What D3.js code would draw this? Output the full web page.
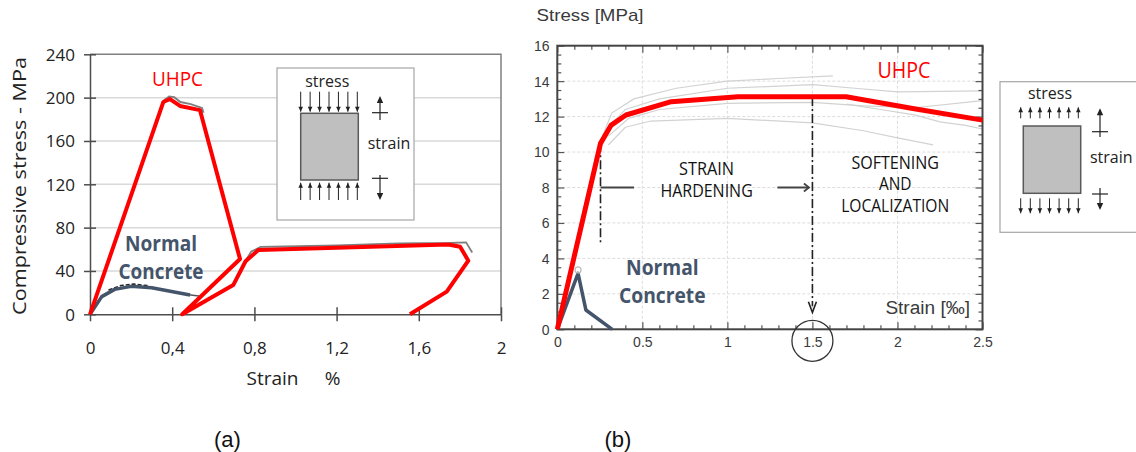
<!DOCTYPE html>
<html>
<head>
<meta charset="utf-8">
<script src="https://cdn.jsdelivr.net/npm/d3@7"></script>
<style>
  html, body { margin: 0; padding: 0; background: #fff; }
  svg { display: block; }
</style>
</head>
<body>
<svg id="fig" width="1136" height="452"></svg>
<script>
// ---------- Panel (a): compression ----------
const aXTicks = [0, 0.4, 0.8, 1.2, 1.6, 2];
const aXLabels = ["0", "0,4", "0,8", "1,2", "1,6", "2"];
const aYTicks = [0, 40, 80, 120, 160, 200, 240];

// strain [%], stress [MPa]
const aUhpc = [[0,0],[0.357,196],[0.389,198.7],[0.438,192.3],[0.535,188.5],[0.73,51],
  [0.449,0],[0.697,27],[0.757,49],[0.819,59.3],[1.2,61.5],[1.743,64.5],[1.801,62.4],
  [1.841,49.5],[1.736,20.9],[1.557,0]];
const aUhpcTestPeak = [[0.36,197.5],[0.385,201],[0.41,200.5],[0.44,196],[0.49,194],[0.545,190.5],[0.552,186]];
const aUhpcTestPlateau = [[0.70,28],[0.745,46],[0.785,58],[0.83,62.2],[0.95,62.6],[1.2,63.6],
  [1.5,65.4],[1.75,65.8],[1.83,66.4],[1.86,57]];
const aNormal = [[0,0],[0.057,16.3],[0.12,23],[0.2,25.8],[0.3,24.5],[0.487,17.8]];
const aNormalTest = [[0.09,22.5],[0.15,26.5],[0.21,28],[0.28,26.5]];
const aNormalTail = [[0.48,18],[0.53,17]];

// ---------- Panel (b): tension ----------
const bXTicks = [0, 0.5, 1, 1.5, 2, 2.5];
const bXLabels = ["0", "0.5", "1", "1.5", "2", "2.5"];
const bYTicks = [0, 2, 4, 6, 8, 10, 12, 14, 16];

// strain [‰], stress [MPa]
const bUhpc = [[0,0],[0.254,10.49],[0.317,11.52],[0.404,12.09],[0.67,12.84],[1.063,13.12],
  [1.698,13.12],[2.09,12.46],[2.5,11.8]];
const bNormal = [[0,0],[0.122,3.16],[0.168,1.09],[0.323,0]];
const bNormalPeak = [[0.122,3.35]];
const bTest1 = [[0,0],[0.2,8.6],[0.27,11.0],[0.32,12.2],[0.45,13.0],[0.7,13.6],[1.0,14.0],[1.3,14.15],[1.62,14.3]];
const bTest2 = [[0.3,11.4],[0.4,12.4],[0.6,13.0],[1.0,13.6],[1.5,13.8],[1.75,13.6],[2.0,13.4],[2.5,13.45]];
const bTest3 = [[0.3,10.9],[0.42,11.9],[0.6,12.4],[1.0,12.75],[1.5,12.8],[1.8,12.6],[2.1,12.5],[2.5,12.9]];
const bTest4 = [[0.3,10.4],[0.4,11.4],[0.55,11.75],[1.0,11.9],[1.5,11.65],[1.8,11.2],[2.0,10.8],[2.21,10.4]];
const bTest5 = [[1.7,12.7],[1.9,12.4],[2.1,12.1],[2.25,11.7],[2.4,11.5],[2.5,11.3]];

const SLATE = "#44546a";
const RED = "#ff0000";
const SANS = "'Open Sans', 'Noto Sans', sans-serif";
const ARIAL = "'Liberation Sans', Arial, sans-serif";

const svg = d3.select("#fig");
svg.append("rect").attr("width", 1136).attr("height", 452).attr("fill", "#fff");

function txt(g, x, y, s, o) {
  const t = g.append("text").attr("x", x).attr("y", y).text(s)
    .attr("dominant-baseline", "central")
    .attr("text-anchor", o.anchor || "middle")
    .attr("font-family", o.family || SANS)
    .attr("font-size", o.size || 16)
    .attr("font-weight", o.weight || "normal")
    .attr("fill", o.fill || "#111");
  if (o.len) t.attr("textLength", o.len).attr("lengthAdjust", "spacingAndGlyphs");
  if (o.transform) t.attr("transform", o.transform);
  return t;
}

function arrowHead(g, x, tipY, dir, len, half, color) {
  // dir = -1 pointing up, +1 pointing down
  g.append("path")
    .attr("d", `M${x},${tipY} L${x - half},${tipY - dir * len} L${x + half},${tipY - dir * len} Z`)
    .attr("fill", color);
}

// Loaded specimen sketch with stress arrows and strain symbol
function specimen(g, box, rect, arrows, strain, labels, outward) {
  g.append("rect").attr("x", box[0]).attr("y", box[1]).attr("width", box[2] - box[0]).attr("height", box[3] - box[1])
    .attr("fill", "#fff").attr("stroke", "#a6a6a6").attr("stroke-width", 1.2);
  g.append("rect").attr("x", rect[0]).attr("y", rect[1]).attr("width", rect[2] - rect[0]).attr("height", rect[3] - rect[1])
    .attr("fill", "#bfbfbf").attr("stroke", "#595959").attr("stroke-width", 1.5);
  const n = 7;
  for (let i = 0; i < n; i++) {
    const x = arrows.x0 + (arrows.x1 - arrows.x0) * i / (n - 1);
    // top row
    g.append("line").attr("x1", x).attr("x2", x).attr("y1", arrows.top[0]).attr("y2", arrows.top[1])
      .attr("stroke", "#222").attr("stroke-width", 1);
    // bottom row
    g.append("line").attr("x1", x).attr("x2", x).attr("y1", arrows.bot[0]).attr("y2", arrows.bot[1])
      .attr("stroke", "#222").attr("stroke-width", 1);
    if (outward) {
      arrowHead(g, x, arrows.top[0], -1, 5, 2.3, "#222");
      arrowHead(g, x, arrows.bot[1], 1, 5, 2.3, "#222");
    } else {
      arrowHead(g, x, arrows.top[1], 1, 5, 2.3, "#222");
      arrowHead(g, x, arrows.bot[0], -1, 5, 2.3, "#222");
    }
  }
  const sx = strain.x;
  g.append("line").attr("x1", sx).attr("x2", sx).attr("y1", strain.top[0] + 3).attr("y2", strain.top[1]).attr("stroke", "#222").attr("stroke-width", 1.2);
  g.append("line").attr("x1", sx - 8).attr("x2", sx + 8).attr("y1", strain.top[2]).attr("y2", strain.top[2]).attr("stroke", "#222").attr("stroke-width", 1.2);
  arrowHead(g, sx, strain.top[0], -1, 7, 3.2, "#222");
  g.append("line").attr("x1", sx).attr("x2", sx).attr("y1", strain.bot[0]).attr("y2", strain.bot[1] - 3).attr("stroke", "#222").attr("stroke-width", 1.2);
  g.append("line").attr("x1", sx - 8).attr("x2", sx + 8).attr("y1", strain.bot[2]).attr("y2", strain.bot[2]).attr("stroke", "#222").attr("stroke-width", 1.2);
  arrowHead(g, sx, strain.bot[1], 1, 7, 3.2, "#222");
  txt(g, labels.stress[0], labels.stress[1], "stress", { size: 16, fill: "#222" });
  txt(g, labels.strain[0], labels.strain[1], "strain", { size: 16, fill: "#222" });
}

// ================= Panel (a) =================
const gA = svg.append("g");
const xA = d3.scaleLinear().domain([0, 2]).range([90, 501]);
const yA = d3.scaleLinear().domain([0, 240]).range([314.3, 54.3]);

// horizontal gridlines
gA.append("g").selectAll("line").data(aYTicks.filter(d => d > 0 && d < 240)).join("line")
  .attr("x1", xA(0)).attr("x2", xA(2)).attr("y1", d => yA(d)).attr("y2", d => yA(d))
  .attr("stroke", "#d9d9d9").attr("stroke-width", 1.5);
// top and right frame
gA.append("path").attr("d", `M${xA(0)},${yA(240)} H${xA(2)} V${yA(0)}`)
  .attr("fill", "none").attr("stroke", "#808080").attr("stroke-width", 1.5);

const axA_x = gA.append("g").attr("transform", `translate(0,${yA(0)})`)
  .call(d3.axisBottom(xA).tickValues(aXTicks).tickFormat((d, i) => aXLabels[i]).tickSize(7).tickSizeOuter(0));
gA.append("g").attr("transform", `translate(0,${yA(0)})`)
  .call(d3.axisTop(xA).tickValues(aXTicks).tickFormat("").tickSize(7).tickSizeOuter(0))
  .select(".domain").remove();
axA_x.selectAll("text").attr("y", 34).attr("dy", "0.35em")
  .attr("font-family", "'Comic Sans MS', 'Open Sans', sans-serif").attr("font-size", 17).attr("fill", "#222");

const axA_y = gA.append("g").attr("transform", `translate(${xA(0)},0)`)
  .call(d3.axisLeft(yA).tickValues(aYTicks).tickFormat(d3.format("d")).tickSize(6).tickSizeOuter(0));
gA.append("g").attr("transform", `translate(${xA(0)},0)`)
  .call(d3.axisRight(yA).tickValues(aYTicks).tickFormat("").tickSize(6).tickSizeOuter(0))
  .select(".domain").remove();
axA_y.selectAll("text").attr("x", -15).attr("dy", "0.35em")
  .attr("font-family", "'Comic Sans MS', 'Open Sans', sans-serif").attr("font-size", 17).attr("fill", "#222");
gA.selectAll(".domain, .tick line").attr("stroke", "#4d4d4d").attr("stroke-width", 1.5);

txt(gA, 19, 186, "Compressive stress  - MPa", { size: 18, len: 258, fill: "#222",
  family: "'Comic Sans MS', 'Open Sans', sans-serif", transform: "rotate(-90,19,186)" });
txt(gA, 272.5, 378, "Strain", { size: 19, len: 52, fill: "#222", family: "'Comic Sans MS', 'Open Sans', sans-serif" });
txt(gA, 332.5, 378, "%", { size: 19, fill: "#222", family: "'Comic Sans MS', 'Open Sans', sans-serif" });

const lineA = d3.line().x(d => xA(d[0])).y(d => yA(d[1]));
gA.append("path").datum(aUhpcTestPeak).attr("d", lineA).attr("fill", "none").attr("stroke", "#7f7f7f").attr("stroke-width", 2);
gA.append("path").datum(aUhpcTestPlateau).attr("d", lineA).attr("fill", "none").attr("stroke", "#7f7f7f").attr("stroke-width", 1.8);
gA.append("path").datum(aNormalTest).attr("d", lineA).attr("fill", "none").attr("stroke", "#222")
  .attr("stroke-width", 1.5).attr("stroke-dasharray", "4,2");
gA.append("path").datum(aNormalTail).attr("d", lineA).attr("fill", "none").attr("stroke", "#555").attr("stroke-width", 1.5);
gA.append("path").datum(aNormal).attr("d", lineA).attr("fill", "none").attr("stroke", SLATE)
  .attr("stroke-width", 3.5).attr("stroke-linejoin", "round");
gA.append("path").datum(aUhpc).attr("d", lineA).attr("fill", "none").attr("stroke", RED)
  .attr("stroke-width", 4).attr("stroke-linejoin", "round");

txt(gA, 177.5, 78, "UHPC", { size: 20, len: 51, fill: RED });
txt(gA, 161, 243, "Normal", { size: 21, weight: "bold", len: 72, fill: SLATE });
txt(gA, 161, 271, "Concrete", { size: 21, weight: "bold", len: 85, fill: SLATE });

specimen(gA, [277, 68, 414, 220], [300.7, 113.3, 358.3, 180],
  { x0: 300.7, x1: 357.3, top: [91.7, 111.7], bot: [182.7, 200] },
  { x: 380, top: [96, 120, 112.7], bot: [175, 200, 178.3] },
  { stress: [327.3, 80.7], strain: [389, 143.3] }, false);

// ================= Panel (b) =================
const gB = svg.append("g");
const xB = d3.scaleLinear().domain([0, 2.5]).range([557.3, 982.5]);
const yB = d3.scaleLinear().domain([0, 16]).range([329.3, 45.7]);

// faint dashed gridlines
gB.append("g").selectAll("line").data(bXTicks.filter(d => d > 0 && d < 2.5)).join("line")
  .attr("x1", d => xB(d)).attr("x2", d => xB(d)).attr("y1", yB(16)).attr("y2", yB(0))
  .attr("stroke", "#dcdcdc").attr("stroke-width", 1).attr("stroke-dasharray", "3,2");
gB.append("g").selectAll("line").data(bYTicks.filter(d => d > 0 && d < 16)).join("line")
  .attr("x1", xB(0)).attr("x2", xB(2.5)).attr("y1", d => yB(d)).attr("y2", d => yB(d))
  .attr("stroke", "#dcdcdc").attr("stroke-width", 1).attr("stroke-dasharray", "3,2");

const lineB = d3.line().x(d => xB(d[0])).y(d => yB(d[1]));
[bTest1, bTest2, bTest3, bTest4, bTest5].forEach(s => {
  gB.append("path").datum(s).attr("d", lineB).attr("fill", "none").attr("stroke", "#d2d2d2").attr("stroke-width", 1.2);
});

// minor and major inward ticks on all four sides
const bXMinor = d3.range(0, 2.5001, 0.1);
const bYMinor = d3.range(0, 16.001, 0.5);
function isMajor(v, step) { return Math.abs(v / step - Math.round(v / step)) < 1e-6; }
gB.append("g").attr("transform", `translate(0,${yB(0)})`)
  .call(d3.axisTop(xB).tickValues(bXMinor).tickFormat("").tickSize(4).tickSizeOuter(0))
  .selectAll(".tick line").attr("y2", d => isMajor(d, 0.5) ? -7 : -4);
gB.append("g").attr("transform", `translate(0,${yB(16)})`)
  .call(d3.axisBottom(xB).tickValues(bXMinor).tickFormat("").tickSize(4).tickSizeOuter(0))
  .selectAll(".tick line").attr("y2", d => isMajor(d, 0.5) ? 7 : 4);
gB.append("g").attr("transform", `translate(${xB(0)},0)`)
  .call(d3.axisRight(yB).tickValues(bYMinor).tickFormat("").tickSize(4).tickSizeOuter(0))
  .selectAll(".tick line").attr("x2", d => isMajor(d, 2) ? 7 : 4);
gB.append("g").attr("transform", `translate(${xB(2.5)},0)`)
  .call(d3.axisLeft(yB).tickValues(bYMinor).tickFormat("").tickSize(4).tickSizeOuter(0))
  .selectAll(".tick line").attr("x2", d => isMajor(d, 2) ? -7 : -4);

const axB_x = gB.append("g").attr("transform", `translate(0,${yB(0)})`)
  .call(d3.axisBottom(xB).tickValues(bXTicks).tickFormat((d, i) => bXLabels[i]).tickSize(0).tickSizeOuter(0));
axB_x.selectAll("text").attr("y", 12.4).attr("dy", "0.35em")
  .attr("font-family", ARIAL).attr("font-size", 14).attr("fill", "#3a3a3a");
const axB_y = gB.append("g").attr("transform", `translate(${xB(0)},0)`)
  .call(d3.axisLeft(yB).tickValues(bYTicks).tickFormat(d3.format("d")).tickSize(0).tickSizeOuter(0));
axB_y.selectAll("text").attr("x", -7.8).attr("dy", "0.35em")
  .attr("font-family", ARIAL).attr("font-size", 14).attr("fill", "#3a3a3a");
gB.selectAll(".domain").remove();
gB.selectAll(".tick line").attr("stroke", "#555").attr("stroke-width", 1.2);

gB.append("rect").attr("x", xB(0)).attr("y", yB(16)).attr("width", xB(2.5) - xB(0)).attr("height", yB(0) - yB(16))
  .attr("fill", "none").attr("stroke", "#444").attr("stroke-width", 2);

// phase markers
const DASHDOT = "9,3,2,3";
gB.append("line").attr("x1", xB(0.254)).attr("x2", xB(0.254)).attr("y1", yB(10.5)).attr("y2", yB(4.75))
  .attr("stroke", "#222").attr("stroke-width", 1.6).attr("stroke-dasharray", DASHDOT);
gB.append("line").attr("x1", xB(1.5)).attr("x2", xB(1.5)).attr("y1", yB(13.1)).attr("y2", yB(1.3))
  .attr("stroke", "#222").attr("stroke-width", 1.6).attr("stroke-dasharray", DASHDOT);
gB.append("path")
  .attr("d", `M${xB(1.5) - 4},${yB(1.55)} L${xB(1.5)},${yB(0.95)} L${xB(1.5) + 4},${yB(1.55)}`)
  .attr("fill", "none").attr("stroke", "#222").attr("stroke-width", 1.6);
gB.append("line").attr("x1", xB(0.254)).attr("x2", xB(0.451)).attr("y1", yB(8)).attr("y2", yB(8))
  .attr("stroke", "#444").attr("stroke-width", 1.8);
gB.append("line").attr("x1", xB(1.294)).attr("x2", xB(1.48)).attr("y1", yB(8)).attr("y2", yB(8))
  .attr("stroke", "#444").attr("stroke-width", 1.8);
gB.append("path")
  .attr("d", `M${xB(1.45)},${yB(8) - 4} L${xB(1.48)},${yB(8)} L${xB(1.45)},${yB(8) + 4}`)
  .attr("fill", "none").attr("stroke", "#444").attr("stroke-width", 1.8);

gB.append("path").datum(bNormal).attr("d", lineB).attr("fill", "none").attr("stroke", SLATE)
  .attr("stroke-width", 3.5).attr("stroke-linejoin", "round");
gB.selectAll(".nc-peak").data(bNormalPeak).join("circle").attr("class", "nc-peak")
  .attr("cx", d => xB(d[0])).attr("cy", d => yB(d[1])).attr("r", 3)
  .attr("fill", "none").attr("stroke", "#bbb").attr("stroke-width", 1.2);
gB.append("path").datum(bUhpc).attr("d", lineB).attr("fill", "none").attr("stroke", RED)
  .attr("stroke-width", 5).attr("stroke-linejoin", "round");

// circled strain value
gB.append("circle").attr("cx", xB(1.5)).attr("cy", 340.8).attr("r", 20.5)
  .attr("fill", "none").attr("stroke", "#333").attr("stroke-width", 1.3);

txt(gB, 536.5, 15, "Stress [MPa]", { anchor: "start", family: ARIAL, size: 17, len: 107, fill: "#3a3a3a" });
txt(gB, 885.4, 308.3, "Strain [‰]", { anchor: "start", family: ARIAL, size: 18, len: 84.6, fill: "#3a3a3a" });
txt(gB, 904, 70, "UHPC", { size: 21, len: 53, fill: RED });
txt(gB, 706.6, 168.3, "STRAIN", { size: 18, len: 55, fill: "#111" });
txt(gB, 706.6, 190, "HARDENING", { size: 18, len: 92.3, fill: "#111" });
txt(gB, 895.2, 161.7, "SOFTENING", { size: 18, len: 87.6, fill: "#111" });
txt(gB, 895.2, 183.3, "AND", { size: 18, len: 32.6, fill: "#111" });
txt(gB, 895.2, 205, "LOCALIZATION", { size: 18, len: 108, fill: "#111" });
txt(gB, 662.4, 266.7, "Normal", { size: 21, weight: "bold", len: 72.7, fill: SLATE });
txt(gB, 662.3, 295, "Concrete", { size: 21, weight: "bold", len: 86.5, fill: SLATE });

specimen(gB, [1000, 81.7, 1140, 232.3], [1023.3, 126, 1080.7, 193.3],
  { x0: 1020.7, x1: 1078.3, top: [107.3, 118.3], bot: [198.3, 213.3] },
  { x: 1100, top: [108.3, 137, 131.7], bot: [188, 210, 194] },
  { stress: [1050, 92.7], strain: [1111.3, 157.3] }, true);

// panel captions
txt(svg, 227.5, 439, "(a)", { family: ARIAL, size: 22, fill: "#111" });
txt(svg, 618, 439, "(b)", { family: ARIAL, size: 22, fill: "#111" });
</script>
</body>
</html>
